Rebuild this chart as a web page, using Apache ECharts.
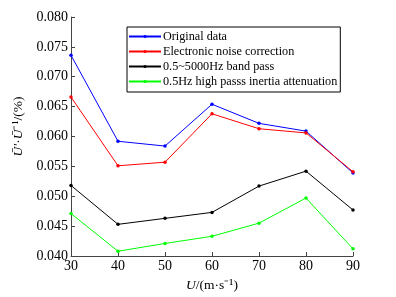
<!DOCTYPE html>
<html><head><meta charset="utf-8">
<script src="https://cdn.jsdelivr.net/npm/echarts@6/dist/echarts.min.js"></script>
<style>html,body{margin:0;padding:0;background:#fff}#c{width:396px;height:297px}</style>
</head><body><div id="c"></div>
<script>
const categories = [30, 40, 50, 60, 70, 80, 90];
const seriesNames = ['Original data', 'Electronic noise correction', '0.5~5000Hz band pass', '0.5Hz high passs inertia attenuation'];
const original = [0.0736, 0.0592, 0.0584, 0.0654, 0.0622, 0.0609, 0.0539];
const noiseCorr = [0.0666, 0.0551, 0.0557, 0.0638, 0.0613, 0.0606, 0.0541];
const bandPass = [0.0518, 0.0453, 0.0463, 0.0473, 0.0517, 0.0542, 0.0477];
const highPass = [0.0471, 0.0408, 0.0421, 0.0433, 0.0455, 0.0497, 0.0412];
const colors = ['#0000ff', '#ff0000', '#000000', '#00ff00'];
const F = '"Liberation Serif", "Times New Roman", serif';
const chart = echarts.init(document.getElementById('c'));
const data = [original, noiseCorr, bandPass, highPass];
chart.setOption({
  animation: false,
  grid: {left: 71, right: 43, top: 17, bottom: 40, containLabel: false},
  legend: {
    orient: 'vertical', left: 127, top: 27, padding: [2, 3, 3, 1], itemGap: 0,
    itemWidth: 32, itemHeight: 4, backgroundColor: '#fff', borderColor: '#000', borderWidth: 1,
    textStyle: {fontFamily: F, fontSize: 12.2, lineHeight: 15, color: '#000', padding: [0,0,0,-3]},
    data: seriesNames
  },
  xAxis: {
    type: 'value', min: 30, max: 90, interval: 10,
    name: '{i|U}/(m·s⁻¹)', nameLocation: 'middle', nameGap: 22,
    nameTextStyle: {fontFamily: F, fontSize: 13.5, color: '#000', rich: {i: {fontStyle: 'italic', fontFamily: F, fontSize: 13.5}}},
    axisLine: {lineStyle: {color: '#444', width: 1}},
    axisTick: {inside: true, length: 4, lineStyle: {color: '#444'}},
    axisLabel: {fontFamily: F, fontSize: 14, color: '#000', margin: 3},
    splitLine: {show: false}
  },
  yAxis: {
    type: 'value', min: 0.040, max: 0.080, interval: 0.005,
    name: '{i|Ū′}·{i|Ū}⁻¹/(%)', nameLocation: 'middle', nameGap: 35,
    nameTextStyle: {fontFamily: F, fontSize: 13.5, color: '#000', padding: [0,0,0,20], rich: {i: {fontStyle: 'italic', fontFamily: F, fontSize: 13.5}}},
    axisLine: {show: true, lineStyle: {color: '#444', width: 1}},
    axisTick: {show: true, inside: true, length: 4, lineStyle: {color: '#444'}},
    axisLabel: {fontFamily: F, fontSize: 14, color: '#000', margin: 3, formatter: v => v.toFixed(3)},
    splitLine: {show: false}
  },
  series: data.map((d, i) => ({
    name: seriesNames[i], type: 'line', symbol: 'circle', symbolSize: 3.5,
    data: categories.map((c, j) => [c, d[j]]),
    lineStyle: {color: colors[i], width: 1}, itemStyle: {color: colors[i]}
  }))
});
</script></body></html>
